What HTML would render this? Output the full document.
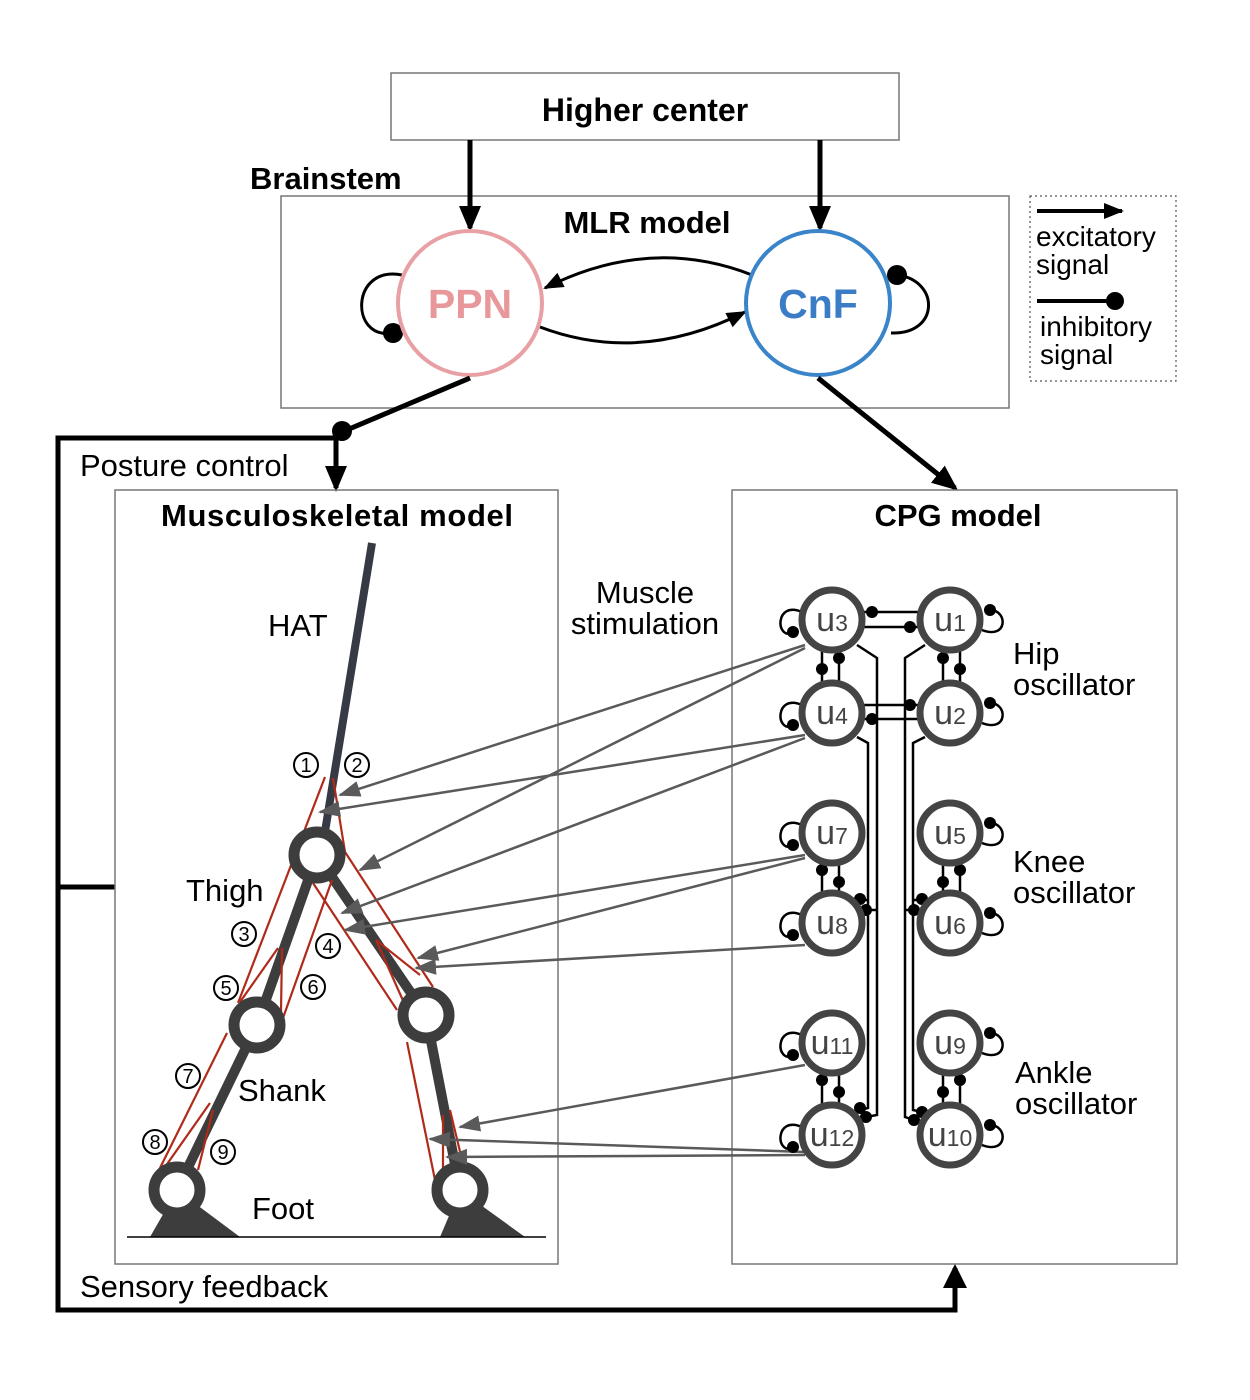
<!DOCTYPE html>
<html><head><meta charset="utf-8"><style>
html,body{margin:0;padding:0;background:#fff}
svg{display:block}
text{font-family:"Liberation Sans",Arial,sans-serif}
</style></head><body>
<svg width="1250" height="1400" viewBox="0 0 1250 1400" xmlns="http://www.w3.org/2000/svg">
<defs>
<marker id="ahb" markerWidth="26" markerHeight="26" refX="22" refY="13" orient="auto" markerUnits="userSpaceOnUse" viewBox="0 0 26 26"><path d="M0,2 L26,13 L0,24 z" fill="#000"/></marker>
<marker id="ahm" markerWidth="20" markerHeight="20" refX="18" refY="10" orient="auto" markerUnits="userSpaceOnUse" viewBox="0 0 20 20"><path d="M0,2 L20,10 L0,18 z" fill="#000"/></marker>
<marker id="ahg" markerWidth="22" markerHeight="18" refX="20" refY="9" orient="auto" markerUnits="userSpaceOnUse" viewBox="0 0 22 18"><path d="M0,1 L22,9 L0,17 z" fill="#5a5a5a"/></marker>
</defs>

<rect x="391" y="73" width="508" height="67" fill="#fff" stroke="#777" stroke-width="1.5"/>
<text x="645" y="121" font-size="32" font-weight="bold" text-anchor="middle">Higher center</text>
<text x="250" y="189" font-size="31" font-weight="bold">Brainstem</text>

<rect x="281" y="196" width="728" height="212" fill="none" stroke="#777" stroke-width="1.5"/>
<text x="647" y="233" font-size="31" font-weight="bold" text-anchor="middle">MLR model</text>
<line x1="470" y1="140" x2="470" y2="228" stroke="#000" stroke-width="5" marker-end="url(#ahb)"/>
<line x1="820" y1="140" x2="820" y2="228" stroke="#000" stroke-width="5" marker-end="url(#ahb)"/>

<path d="M752,275 Q650,235 545,288" fill="none" stroke="#000" stroke-width="3" marker-end="url(#ahm)"/>
<path d="M540,327 Q640,365 745,312" fill="none" stroke="#000" stroke-width="3" marker-end="url(#ahm)"/>
<path d="M402,275 C350,265 350,340 392,333" fill="none" stroke="#000" stroke-width="3"/>
<circle cx="393" cy="333" r="10" fill="#000"/>
<path d="M897,275 C940,280 940,335 891,333" fill="none" stroke="#000" stroke-width="3"/>
<circle cx="897" cy="275" r="10" fill="#000"/>

<circle cx="470" cy="303" r="72" fill="#fff" stroke="#e8a0a4" stroke-width="4"/>
<text x="470" y="318" font-size="41" font-weight="bold" fill="#e8979b" text-anchor="middle">PPN</text>
<circle cx="818" cy="303" r="72" fill="#fff" stroke="#3a84c9" stroke-width="4"/>
<text x="818" y="318" font-size="41" font-weight="bold" fill="#3a7dc6" text-anchor="middle">CnF</text>

<rect x="1030" y="196" width="146" height="185" fill="none" stroke="#555" stroke-width="1.2" stroke-dasharray="2,3"/>
<line x1="1037" y1="211" x2="1122" y2="211" stroke="#000" stroke-width="4" marker-end="url(#ahm)"/>
<text x="1036" y="246" font-size="28">excitatory</text>
<text x="1036" y="274" font-size="28">signal</text>
<line x1="1037" y1="301" x2="1115" y2="301" stroke="#000" stroke-width="4"/>
<circle cx="1115" cy="301" r="9" fill="#000"/>
<text x="1040" y="336" font-size="28">inhibitory</text>
<text x="1040" y="364" font-size="28">signal</text>

<line x1="470" y1="378" x2="342" y2="432" stroke="#000" stroke-width="5"/>
<circle cx="342" cy="431" r="10" fill="#000"/>
<line x1="336" y1="438" x2="336" y2="488" stroke="#000" stroke-width="5" marker-end="url(#ahb)"/>
<polyline points="342,438 58,438 58,1310 955,1310 955,1268" fill="none" stroke="#000" stroke-width="5"/>
<path d="M943,1288 L955,1264 L967,1288 z" fill="#000"/>
<line x1="58" y1="887" x2="115" y2="887" stroke="#000" stroke-width="5"/>
<line x1="818" y1="378" x2="955" y2="488" stroke="#000" stroke-width="5" marker-end="url(#ahb)"/>

<text x="80" y="476" font-size="31">Posture control</text>
<text x="80" y="1297" font-size="31">Sensory feedback</text>

<rect x="115" y="490" width="443" height="774" fill="none" stroke="#777" stroke-width="1.5"/>
<text x="337" y="526" font-size="31" font-weight="bold" text-anchor="middle" textLength="352">Musculoskeletal model</text>
<rect x="732" y="490" width="445" height="774" fill="none" stroke="#777" stroke-width="1.5"/>
<text x="958" y="526" font-size="31" font-weight="bold" text-anchor="middle">CPG model</text>

<text x="645" y="603" font-size="31" text-anchor="middle">Muscle</text>
<text x="645" y="634" font-size="31" text-anchor="middle">stimulation</text>

<line x1="372" y1="543" x2="322" y2="850" stroke="#353a44" stroke-width="8"/>
<g stroke="#3d3d3d" stroke-width="10" stroke-linecap="round">
<line x1="317" y1="855" x2="257" y2="1025"/>
<line x1="257" y1="1025" x2="177" y2="1190"/>
<line x1="317" y1="855" x2="426" y2="1015"/>
<line x1="426" y1="1015" x2="460" y2="1190"/>
</g>
<path d="M177,1190 L150,1237 L240,1237 z" fill="#3d3d3d"/>
<path d="M460,1190 L440,1237 L525,1237 z" fill="#3d3d3d"/>
<line x1="127" y1="1237" x2="546" y2="1237" stroke="#000" stroke-width="1.5"/>

<g stroke="#b02a1a" stroke-width="2.2" fill="none">
<line x1="325" y1="777" x2="238" y2="1003"/>
<polyline points="333,778 345,852 433,987"/>
<line x1="313" y1="883" x2="397" y2="1010"/>
<line x1="332" y1="880" x2="283" y2="1018"/>
<line x1="278" y1="948" x2="240" y2="1002"/>
<line x1="282" y1="948" x2="281" y2="1012"/>
<line x1="227" y1="1033" x2="160" y2="1168"/>
<line x1="210" y1="1103" x2="165" y2="1167"/>
<line x1="213" y1="1110" x2="198" y2="1170"/>
<polyline points="376,940 405,1005"/>
<polyline points="376,940 420,975"/>
<line x1="407" y1="1042" x2="435" y2="1180"/>
<line x1="443" y1="1115" x2="443" y2="1183"/>
<line x1="450" y1="1110" x2="468" y2="1185"/>
</g>

<g fill="#fff" stroke="#3d3d3d" stroke-width="11">
<circle cx="317" cy="855" r="23"/>
<circle cx="257" cy="1025" r="23"/>
<circle cx="177" cy="1190" r="23"/>
<circle cx="426" cy="1015" r="23"/>
<circle cx="460" cy="1190" r="23"/>
</g>

<text x="268" y="636" font-size="31">HAT</text>
<text x="186" y="901" font-size="31">Thigh</text>
<text x="238" y="1101" font-size="31">Shank</text>
<text x="252" y="1219" font-size="31">Foot</text>
<g fill="none" stroke="#000" stroke-width="2">
<circle cx="306" cy="765" r="12"/><circle cx="357" cy="765" r="12"/>
<circle cx="244" cy="934" r="12"/><circle cx="328" cy="946" r="12"/>
<circle cx="226" cy="988" r="12"/><circle cx="313" cy="987" r="12"/>
<circle cx="188" cy="1076" r="12"/><circle cx="155" cy="1142" r="12"/>
<circle cx="223" cy="1152" r="12"/>
</g>
<g font-size="20" text-anchor="middle">
<text x="306" y="772">1</text><text x="357" y="772">2</text>
<text x="244" y="941">3</text><text x="328" y="953">4</text>
<text x="226" y="995">5</text><text x="313" y="994">6</text>
<text x="188" y="1083">7</text><text x="155" y="1149">8</text>
<text x="223" y="1159">9</text>
</g>

<g stroke="#5a5a5a" stroke-width="2.5" fill="none" marker-end="url(#ahg)">
<line x1="805" y1="645" x2="340" y2="795"/>
<line x1="805" y1="648" x2="360" y2="870"/>
<line x1="805" y1="735" x2="320" y2="812"/>
<line x1="805" y1="738" x2="342" y2="913"/>
<line x1="805" y1="855" x2="345" y2="930"/>
<line x1="805" y1="858" x2="418" y2="958"/>
<line x1="805" y1="945" x2="416" y2="968"/>
<line x1="805" y1="1065" x2="460" y2="1127"/>
<line x1="805" y1="1152" x2="430" y2="1139"/>
<line x1="805" y1="1155" x2="447" y2="1157"/>
</g>

<g stroke="#000" stroke-width="2.5" fill="none">
<line x1="862" y1="612" x2="920" y2="612"/><line x1="862" y1="627" x2="920" y2="627"/>
<line x1="862" y1="705" x2="920" y2="705"/><line x1="862" y1="719" x2="920" y2="719"/>
<line x1="822" y1="650" x2="822" y2="683"/><line x1="839" y1="650" x2="839" y2="683"/>
<line x1="943" y1="650" x2="943" y2="683"/><line x1="960" y1="650" x2="960" y2="683"/>
<line x1="822" y1="863" x2="822" y2="893"/><line x1="839" y1="863" x2="839" y2="893"/>
<line x1="943" y1="863" x2="943" y2="893"/><line x1="960" y1="863" x2="960" y2="893"/>
<line x1="822" y1="1073" x2="822" y2="1105"/><line x1="839" y1="1073" x2="839" y2="1105"/>
<line x1="943" y1="1073" x2="943" y2="1105"/><line x1="960" y1="1073" x2="960" y2="1105"/>
<polyline points="857,645 877,658 877,1115 866,1117"/>
<polyline points="857,737 868,743 868,1108 860,1110"/>
<polyline points="925,645 905,658 905,1117 914,1120"/>
<polyline points="925,737 913,743 913,1110 922,1112"/>
<line x1="868" y1="900" x2="860" y2="900"/><line x1="877" y1="910" x2="866" y2="910"/>
<line x1="913" y1="900" x2="922" y2="900"/><line x1="905" y1="910" x2="914" y2="910"/>
<path d="M802,612 C775,600 775,640 793,633"/>
<path d="M802,705 C775,693 775,733 793,726"/>
<path d="M802,825 C775,813 775,853 793,846"/>
<path d="M802,915 C775,903 775,943 793,936"/>
<path d="M802,1035 C775,1023 775,1063 793,1056"/>
<path d="M802,1127 C775,1115 775,1155 793,1148"/>
<path d="M990,610 C1008,610 1008,640 982,630"/>
<path d="M990,703 C1008,703 1008,733 982,723"/>
<path d="M990,823 C1008,823 1008,853 982,843"/>
<path d="M990,913 C1008,913 1008,943 982,933"/>
<path d="M990,1033 C1008,1033 1008,1063 982,1053"/>
<path d="M990,1125 C1008,1125 1008,1155 982,1145"/>
</g>
<g fill="#000">
<circle cx="872" cy="612" r="6"/><circle cx="910" cy="627" r="6"/>
<circle cx="910" cy="705" r="6"/><circle cx="872" cy="719" r="6"/>
<circle cx="822" cy="669" r="6"/><circle cx="839" cy="658" r="6"/>
<circle cx="943" cy="658" r="6"/><circle cx="960" cy="669" r="6"/>
<circle cx="822" cy="870" r="6"/><circle cx="839" cy="882" r="6"/>
<circle cx="943" cy="882" r="6"/><circle cx="960" cy="870" r="6"/>
<circle cx="822" cy="1080" r="6"/><circle cx="839" cy="1092" r="6"/>
<circle cx="943" cy="1092" r="6"/><circle cx="960" cy="1080" r="6"/>
<circle cx="860" cy="899" r="6"/><circle cx="866" cy="910" r="6"/>
<circle cx="922" cy="899" r="6"/><circle cx="914" cy="910" r="6"/>
<circle cx="860" cy="1108" r="6"/><circle cx="866" cy="1117" r="6"/>
<circle cx="922" cy="1112" r="6"/><circle cx="914" cy="1120" r="6"/>
<circle cx="793" cy="632" r="6"/><circle cx="793" cy="725" r="6"/>
<circle cx="793" cy="845" r="6"/><circle cx="793" cy="935" r="6"/>
<circle cx="793" cy="1055" r="6"/><circle cx="793" cy="1147" r="6"/>
<circle cx="990" cy="610" r="6"/><circle cx="990" cy="703" r="6"/>
<circle cx="990" cy="823" r="6"/><circle cx="990" cy="913" r="6"/>
<circle cx="990" cy="1033" r="6"/><circle cx="990" cy="1125" r="6"/>
</g>

<g fill="#fff" stroke="#444" stroke-width="7">
<circle cx="832" cy="620" r="30"/><circle cx="950" cy="620" r="30"/>
<circle cx="832" cy="713" r="30"/><circle cx="950" cy="713" r="30"/>
<circle cx="832" cy="833" r="30"/><circle cx="950" cy="833" r="30"/>
<circle cx="832" cy="923" r="30"/><circle cx="950" cy="923" r="30"/>
<circle cx="832" cy="1043" r="30"/><circle cx="950" cy="1043" r="30"/>
<circle cx="832" cy="1135" r="30"/><circle cx="950" cy="1135" r="30"/>
</g>
<g font-size="34" fill="#444" text-anchor="middle">
<text x="832" y="631">u<tspan font-size="23">3</tspan></text>
<text x="950" y="631">u<tspan font-size="23">1</tspan></text>
<text x="832" y="724">u<tspan font-size="23">4</tspan></text>
<text x="950" y="724">u<tspan font-size="23">2</tspan></text>
<text x="832" y="844">u<tspan font-size="23">7</tspan></text>
<text x="950" y="844">u<tspan font-size="23">5</tspan></text>
<text x="832" y="934">u<tspan font-size="23">8</tspan></text>
<text x="950" y="934">u<tspan font-size="23">6</tspan></text>
<text x="832" y="1054">u<tspan font-size="23">11</tspan></text>
<text x="950" y="1054">u<tspan font-size="23">9</tspan></text>
<text x="832" y="1146">u<tspan font-size="23">12</tspan></text>
<text x="950" y="1146">u<tspan font-size="23">10</tspan></text>
</g>

<g font-size="31">
<text x="1013" y="664">Hip</text><text x="1013" y="695">oscillator</text>
<text x="1013" y="872">Knee</text><text x="1013" y="903">oscillator</text>
<text x="1015" y="1083">Ankle</text><text x="1015" y="1114">oscillator</text>
</g>
</svg>
</body></html>
